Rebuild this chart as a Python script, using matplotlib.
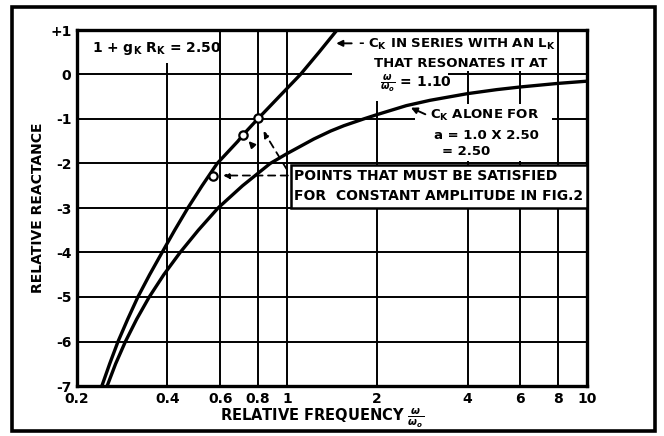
import matplotlib
matplotlib.use("Agg")
import matplotlib.pyplot as plt
from matplotlib.patches import Rectangle

plt.rcParams['font.family'] = ['DejaVu Sans']
plt.rcParams['font.weight'] = 'bold'
plt.rcParams['mathtext.fontset'] = 'dejavusans'

# values
series_x = [0.242, 0.257, 0.274, 0.295, 0.319, 0.349, 0.384, 0.423, 0.468, 0.522, 0.586, 0.687,
            0.716, 0.80, 0.942, 1.11, 1.28, 1.47, 1.55]
series_y = [-7.0, -6.5, -6.0, -5.5, -5.0, -4.5, -4.0, -3.5, -3.0, -2.5, -2.0, -1.5,
            -1.35, -1.0, -0.5, 0.0, 0.5, 1.0, 1.2]

alone_x = [0.252, 0.269, 0.29, 0.316, 0.348, 0.389, 0.441, 0.507, 0.59, 0.712, 0.88, 1.0, 1.23,
           1.4, 1.55, 1.8, 2.0, 2.5, 3.0, 4.0, 5.0, 6.0, 8.0, 10.0]
alone_y = [-7.0, -6.5, -6.0, -5.5, -5.0, -4.5, -4.0, -3.5, -3.0, -2.5, -2.0, -1.78, -1.45,
           -1.27, -1.15, -1.0, -0.9, -0.7, -0.58, -0.43, -0.34, -0.28, -0.2, -0.15]

pts_x = [0.568, 0.716, 0.80]
pts_y = [-2.27, -1.35, -0.97]

xticks = [0.2, 0.4, 0.6, 0.8, 1, 2, 4, 6, 8, 10]
xtick_labels = ['0.2', '0.4', '0.6', '0.8', '1', '2', '4', '6', '8', '10']
yticks = [1, 0, -1, -2, -3, -4, -5, -6, -7]
ytick_labels = ['+1', '0', '-1', '-2', '-3', '-4', '-5', '-6', '-7']

fig = plt.figure(figsize=(6.64, 4.36), dpi=100)
ax = fig.add_axes([77/664, 1-386/436, 510/664, 356/436])

ax.set_xscale('log')
ax.set_xlim(0.2, 10)
ax.set_ylim(-7, 1)
ax.set_xticks(xticks)
ax.set_xticklabels(xtick_labels)
ax.minorticks_off()
ax.set_yticks(yticks)
ax.set_yticklabels(ytick_labels)
ax.tick_params(length=0, labelsize=10, pad=4)
for lab in ax.get_xticklabels() + ax.get_yticklabels():
    lab.set_fontweight('bold')

ax.set_axisbelow(True)
ax.grid(True, color='black', linewidth=1.4)
for sp in ax.spines.values():
    sp.set_linewidth(2.4)

# white patches where the lettering breaks the grid (axes fraction)
def blank(x0, y0, x1, y1):
    ax.add_patch(Rectangle(((x0-77)/510, (386-y1)/356), (x1-x0)/510, (y1-y0)/356,
                           transform=ax.transAxes, facecolor='white', edgecolor='none', zorder=1))

blank(80, 32, 212, 63)
blank(352, 32, 448, 101)
blank(448, 32, 540, 71)
blank(415, 104, 552, 161)

ax.plot(series_x, series_y, color='black', linewidth=2.4, zorder=2, solid_capstyle='round')
ax.plot(alone_x, alone_y, color='black', linewidth=2.4, zorder=2, solid_capstyle='round')
ax.plot(pts_x, pts_y, linestyle='none', marker='o', markersize=6, markerfacecolor='white',
        markeredgecolor='black', markeredgewidth=1.6, zorder=4)

# box for the "points" note
ax.add_patch(Rectangle((1.03, -3.0), 10 - 1.03, 0.97, facecolor='white', edgecolor='black',
                       linewidth=1.8, zorder=3))
ax.text(1.06, -2.29, 'POINTS THAT MUST BE SATISFIED', fontsize=10, fontweight='bold',
        va='center', ha='left', zorder=5)
ax.text(1.06, -2.72, 'FOR  CONSTANT AMPLITUDE IN FIG.2', fontsize=10, fontweight='bold',
        va='center', ha='left', zorder=5)

arrow_dash = dict(arrowstyle='-|>', color='black', linewidth=1.3, linestyle=(0, (4, 3)),
                  mutation_scale=9)
arrow_solid = dict(arrowstyle='-|>', color='black', linewidth=1.4, mutation_scale=9)
ax.annotate('', xy=(0.60, -2.27), xytext=(1.03, -2.27), arrowprops=arrow_dash, zorder=5)
ax.annotate('', xy=(0.827, -1.22), xytext=(1.01, -2.18), arrowprops=arrow_dash, zorder=5)
ax.annotate('', xy=(0.735, -1.45), xytext=(0.785, -1.66), arrowprops=arrow_solid, zorder=5)

# labels
ax.text(0.225, 0.58, '1 + g$_\\mathregular{K}$ R$_\\mathregular{K}$ = 2.50', fontsize=10,
        fontweight='bold', va='center', ha='left', zorder=5)

ax.annotate('', xy=(1.43, 0.70), xytext=(1.68, 0.70), arrowprops=arrow_solid, zorder=5)
ax.text(1.72, 0.68, '- C$_\\mathregular{K}$ IN SERIES WITH AN L$_\\mathregular{K}$', fontsize=9.5,
        fontweight='bold', va='center', ha='left', zorder=5)
ax.text(1.95, 0.24, 'THAT RESONATES IT AT', fontsize=9.5, fontweight='bold',
        va='center', ha='left', zorder=5)
ax.text(2.05, -0.22, '$\\frac{\\omega}{\\omega_o}$ = 1.10', fontsize=10, fontweight='bold',
        va='center', ha='left', zorder=5)

ax.annotate('', xy=(2.54, -0.72), xytext=(2.95, -0.92), arrowprops=arrow_solid, zorder=5)
ax.text(3.0, -0.92, 'C$_\\mathregular{K}$ ALONE FOR', fontsize=9.5, fontweight='bold',
        va='center', ha='left', zorder=5)
ax.text(3.1, -1.37, 'a = 1.0 X 2.50', fontsize=9.5, fontweight='bold',
        va='center', ha='left', zorder=5)
ax.text(3.3, -1.72, '= 2.50', fontsize=9.5, fontweight='bold',
        va='center', ha='left', zorder=5)

fig.text(38/664, 1-208/436, 'RELATIVE REACTANCE', rotation=90, fontsize=10, fontweight='bold',
         ha='center', va='center')
fig.text(322/664, 1-418/436, 'RELATIVE FREQUENCY $\\frac{\\omega}{\\omega_o}$', fontsize=10.5,
         fontweight='bold', ha='center', va='center')

# outer frame of the figure
fig.patches.append(Rectangle((12/664, 1-431/436), 643/664, 424/436, transform=fig.transFigure,
                             facecolor='none', edgecolor='black', linewidth=2.6))

fig.savefig('out.png', dpi=100)
